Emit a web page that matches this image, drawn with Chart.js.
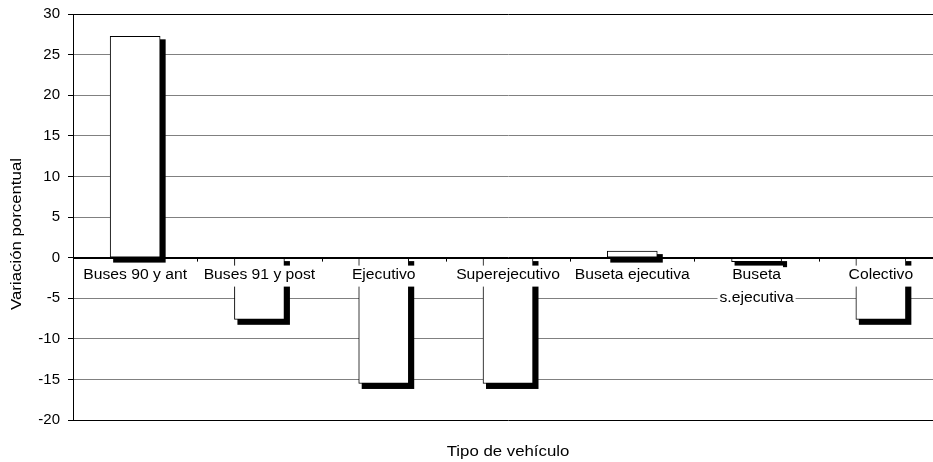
<!DOCTYPE html>
<html>
<head>
<meta charset="utf-8">
<script src="https://cdn.jsdelivr.net/npm/chart.js@4/dist/chart.umd.min.js"></script>
<style>
  html, body { margin: 0; padding: 0; background: #fff; overflow: hidden; }
  #wrap { position: relative; width: 960px; height: 462px; }
</style>
</head>
<body>
<div id="wrap"><canvas id="chart"></canvas></div>
<script>
/* Variación porcentual por tipo de vehículo */

const CATEGORIES = ['Buses 90 y ant', 'Buses 91 y post', 'Ejecutivo', 'Superejecutivo',
  'Buseta ejecutiva', ['Buseta', 's.ejecutiva'], 'Colectivo'];
const VARIATION = [27.25, -7.6, -15.5, -15.5, 0.8, -0.5, -7.6];
const Y_MIN = -20, Y_MAX = 30, Y_STEP = 5;

const FONT = '"Liberation Sans", Arial, sans-serif';
const STRETCH = 1.12;   // the source text is a bit wide

// horizontally stretched text, centred at (x, y)
function wideText(ctx, txt, x, y, rot) {
  ctx.save();
  ctx.translate(x, y);
  if (rot) ctx.rotate(rot);
  ctx.scale(STRETCH, 1);
  ctx.fillText(txt, 0, 0);
  ctx.restore();
}

// black drop shadow behind each bar
const barShadow = {
  id: 'barShadow',
  beforeDatasetsDraw(chart) {
    const ctx = chart.ctx;
    const meta = chart.getDatasetMeta(0);
    ctx.save();
    ctx.fillStyle = '#000';
    meta.data.forEach(bar => {
      const l = bar.x - bar.width / 2, r = bar.x + bar.width / 2;
      const t = Math.min(bar.y, bar.base), b = Math.max(bar.y, bar.base);
      ctx.fillRect(l + 3, t + 3, r - l + 2.5, b - t + 2.5);
    });
    ctx.restore();
  }
};

// category labels under the zero line, tick marks, axis titles
const zeroLabels = {
  id: 'zeroLabels',
  afterDatasetsDraw(chart) {
    const ctx = chart.ctx;
    const x = chart.scales.x, y = chart.scales.y;
    const area = chart.chartArea;
    const y0 = y.getPixelForValue(0);
    ctx.save();
    ctx.strokeStyle = '#000';
    ctx.lineWidth = 1;
    ctx.beginPath();
    ctx.moveTo(area.left, Math.round(y0) + 0.5);
    ctx.lineTo(area.right, Math.round(y0) + 0.5);
    ctx.stroke();
    for (let i = 1; i < CATEGORIES.length; i++) {
      const px = Math.round((x.getPixelForValue(i - 1) + x.getPixelForValue(i)) / 2) + 0.5;
      ctx.beginPath();
      ctx.moveTo(px, y0);
      ctx.lineTo(px, y0 + 4);
      ctx.stroke();
    }
    ctx.font = '14px ' + FONT;
    ctx.textAlign = 'center';
    ctx.textBaseline = 'middle';
    CATEGORIES.forEach((c, i) => {
      const lines = Array.isArray(c) ? c : [c];
      const cx = x.getPixelForValue(i);
      lines.forEach((txt, j) => {
        const cy = y0 + 18 + j * 23;
        const w = ctx.measureText(txt).width * STRETCH;
        ctx.fillStyle = '#fff';
        ctx.fillRect(cx - w / 2 - 2, cy - 10, w + 4, 21);
        ctx.fillStyle = '#000';
        wideText(ctx, txt, cx, cy);
      });
    });
    // axis titles
    ctx.font = '15px ' + FONT;
    wideText(ctx, 'Variación porcentual', 17, (area.top + area.bottom) / 2 + 17, -Math.PI / 2);
    wideText(ctx, 'Tipo de vehículo', (area.left + area.right) / 2, 452);
    ctx.restore();
  }
};

new Chart(document.getElementById('chart'), {
  type: 'bar',
  data: {
    labels: CATEGORIES,
    datasets: [{
      data: VARIATION,
      backgroundColor: '#fff',
      borderColor: '#000',
      borderWidth: 1,
      borderSkipped: false,
      barThickness: 50
    }]
  },
  options: {
    responsive: true, maintainAspectRatio: false, animation: false,
    devicePixelRatio: 1,
    layout: { padding: { top: 14, right: 17, left: 0, bottom: 0 } },
    plugins: { legend: { display: false }, tooltip: { enabled: false } },
    scales: {
      x: {
        ticks: { display: false },
        grid: { display: false },
        border: { display: false },
        afterFit: s => { s.height = 42; }
      },
      y: {
        min: Y_MIN, max: Y_MAX,
        ticks: {
          stepSize: Y_STEP, color: '#000', padding: 8,
          font: { family: FONT, size: 15 }
        },
        grid: {
          color: c => (c.tick.value === Y_MIN || c.tick.value === Y_MAX || c.tick.value === 0) ? '#000' : '#808080',
          tickColor: '#000', tickLength: 5, lineWidth: 1
        },
        border: { color: '#000', width: 1 },
        afterFit: s => { s.width = 73; s.paddingTop = 0; s.paddingBottom = 0; }
      }
    }
  },
  plugins: [barShadow, zeroLabels]
});
</script>
</body>
</html>
